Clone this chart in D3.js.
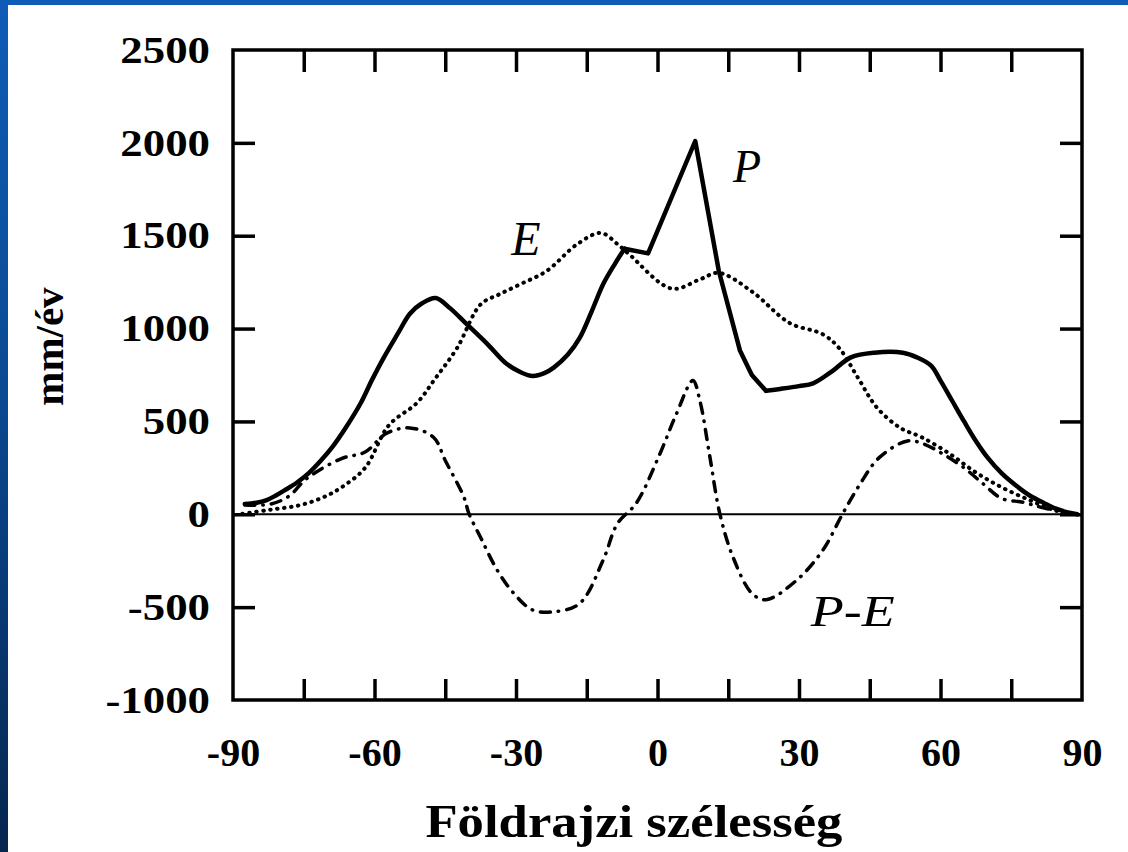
<!DOCTYPE html>
<html>
<head>
<meta charset="utf-8">
<script src="https://cdn.jsdelivr.net/npm/d3@7"></script>
<style>
    body { margin: 0; background: #ffffff; }
    text { font-family: "Liberation Serif", "Times New Roman", serif; }
</style>
</head>
<body>
<script>
// Latitudes and values (mm/év).
var pLat = [-87.5, -85, -83, -81, -79, -76.5, -74, -71.5, -69, -66, -63, -60.5, -58, -55, -52.5, -50, -47, -44, -40.5, -36, -32, -29, -26.5, -24, -22, -19, -16.5, -14, -11.5, -9, -7, -2, 8, 13, 17.5, 20, 23, 26, 30, 33, 37, 41, 46, 52, 55, 58, 60, 62.5, 65, 67.5, 70, 73, 76, 79, 82, 84.5, 87, 89];
var pVal = [55, 62, 75, 100, 130, 170, 220, 285, 360, 470, 595, 725, 845, 975, 1080, 1135, 1165, 1110, 1025, 915, 810, 765, 745, 760, 790, 860, 950, 1090, 1240, 1350, 1430, 1405, 2010, 1310, 880, 750, 665, 675, 690, 705, 770, 845, 870, 870, 845, 800, 720, 610, 500, 395, 305, 220, 155, 100, 60, 30, 10, 0];

var eLat = [-88, -82, -76, -71, -67, -62, -57, -51, -47, -42.5, -37.5, -33.5, -29, -23.5, -17, -12, -8.5, -6, 3, 9, 13, 20, 28, 35, 38.5, 42.5, 46.5, 51.5, 56, 62, 67.5, 73, 79, 84.5, 89];
var eVal = [3, 25, 48, 90, 145, 250, 478, 600, 735, 895, 1130, 1185, 1240, 1310, 1455, 1515, 1455, 1400, 1215, 1265, 1300, 1200, 1030, 970, 895, 735, 575, 465, 415, 325, 225, 145, 75, 20, 0];

var peLat = [-87.5, -82, -78, -74.5, -67, -62, -57.5, -52.5, -47.5, -45, -41, -40, -37.5, -34, -30.5, -26.5, -22, -16.5, -11.5, -8.5, -4.5, 0.5, 4, 7.5, 9, 11, 13.2, 16, 20, 23, 29.5, 35, 39.3, 43, 47, 53, 56.3, 60.5, 65, 69, 73, 77.5, 81, 88];
var peVal = [50, 55, 100, 190, 300, 335, 435, 465, 415, 290, 90, 5, -125, -300, -425, -515, -525, -480, -245, -50, 60, 325, 540, 720, 610, 325, 5, -230, -425, -460, -355, -195, 5, 165, 305, 395, 380, 325, 250, 165, 85, 65, 40, 0];

var xTicksMinor = [-75, -60, -45, -30, -15, 0, 15, 30, 45, 60, 75];
var xTickLabels = [-90, -60, -30, 0, 30, 60, 90];
var yTickValues = [-1000, -500, 0, 500, 1000, 1500, 2000, 2500];

var svgWidth = 1128;
var svgHeight = 852;

var margin = {
    top: 50,
    bottom: 152,
    right: 46,
    left: 233
};

var width = svgWidth - margin.left - margin.right;
var height = svgHeight - margin.top - margin.bottom;

var svg = d3.select("body")
    .append("svg")
    .attr("width", svgWidth)
    .attr("height", svgHeight);

// Blue slide frame behind the white panel.
var defs = svg.append("defs");
var grad = defs.append("linearGradient")
    .attr("id", "frameGrad")
    .attr("x1", 0).attr("y1", 0)
    .attr("x2", 0).attr("y2", 1);
grad.append("stop").attr("offset", "0%").attr("stop-color", "#0f5cb6");
grad.append("stop").attr("offset", "45%").attr("stop-color", "#0b4a93");
grad.append("stop").attr("offset", "100%").attr("stop-color", "#05264f");

svg.append("rect")
    .attr("width", svgWidth)
    .attr("height", svgHeight)
    .attr("fill", "url(#frameGrad)");

svg.append("rect")
    .attr("x", 8)
    .attr("y", 5)
    .attr("width", svgWidth - 8)
    .attr("height", svgHeight - 5)
    .attr("fill", "#ffffff");

var chartGroup = svg.append("g")
    .attr("transform", `translate(${margin.left}, ${margin.top})`);

// Scales.
var xLinearScale = d3.scaleLinear()
    .domain([-90, 90])
    .range([0, width]);

var yLinearScale = d3.scaleLinear()
    .domain([-1000, 2500])
    .range([height, 0]);

// Zero line.
chartGroup.append("line")
    .attr("x1", 0)
    .attr("x2", width)
    .attr("y1", yLinearScale(0))
    .attr("y2", yLinearScale(0))
    .attr("stroke", "#000")
    .attr("stroke-width", 2);

var smoothLine = d3.line()
    .x(d => xLinearScale(d[0]))
    .y(d => yLinearScale(d[1]))
    .curve(d3.curveCatmullRom.alpha(0.5));

var straightLine = d3.line()
    .x(d => xLinearScale(d[0]))
    .y(d => yLinearScale(d[1]));

// P - E (dash-dot).
chartGroup.append("path")
    .datum(d3.zip(peLat, peVal))
    .attr("d", smoothLine)
    .attr("fill", "none")
    .attr("stroke", "#000")
    .attr("stroke-width", 3.5)
    .attr("stroke-linecap", "round")
    .attr("stroke-dasharray", "10 8 0.5 8");

// E (dotted).
chartGroup.append("path")
    .datum(d3.zip(eLat, eVal))
    .attr("d", smoothLine)
    .attr("fill", "none")
    .attr("stroke", "#000")
    .attr("stroke-width", 4)
    .attr("stroke-linecap", "round")
    .attr("stroke-dasharray", "0.5 6.5");

// P (solid): smooth wings, straight segments round the sharp tropical peak.
var pPoints = d3.zip(pLat, pVal);
var iCornerL = pLat.indexOf(-7);
var iCornerR = pLat.indexOf(23);
var pParts = [
    {pts: pPoints.slice(0, iCornerL + 1), gen: smoothLine},
    {pts: pPoints.slice(iCornerL, iCornerR + 1), gen: straightLine},
    {pts: pPoints.slice(iCornerR), gen: smoothLine}
];

chartGroup.selectAll(".p-line")
    .data(pParts)
    .enter()
    .append("path")
    .attr("class", "p-line")
    .attr("d", d => d.gen(d.pts))
    .attr("fill", "none")
    .attr("stroke", "#000")
    .attr("stroke-width", 4.5)
    .attr("stroke-linejoin", "round")
    .attr("stroke-linecap", "round");

// Inner ticks on all four sides.
chartGroup.append("g")
    .attr("transform", `translate(0, ${height})`)
    .call(d3.axisBottom(xLinearScale).tickValues(xTicksMinor).tickSize(-21).tickFormat(""))
    .call(g => g.select(".domain").remove())
    .selectAll("line").attr("stroke-width", 3.5);

chartGroup.append("g")
    .call(d3.axisTop(xLinearScale).tickValues(xTicksMinor).tickSize(-22).tickFormat(""))
    .call(g => g.select(".domain").remove())
    .selectAll("line").attr("stroke-width", 3.5);

chartGroup.append("g")
    .call(d3.axisLeft(yLinearScale).tickValues(yTickValues.slice(1, -1)).tickSize(-22).tickFormat(""))
    .call(g => g.select(".domain").remove())
    .selectAll("line").attr("stroke-width", 3.5);

chartGroup.append("g")
    .attr("transform", `translate(${width}, 0)`)
    .call(d3.axisRight(yLinearScale).tickValues(yTickValues.slice(1, -1)).tickSize(-22).tickFormat(""))
    .call(g => g.select(".domain").remove())
    .selectAll("line").attr("stroke-width", 3.5);

// Frame.
chartGroup.append("rect")
    .attr("width", width)
    .attr("height", height)
    .attr("fill", "none")
    .attr("stroke", "#000")
    .attr("stroke-width", 3.5);

// Tick labels (plain hyphen for the minus sign, as in the picture).
var xAxisLabels = chartGroup.append("g")
    .attr("transform", `translate(0, ${height})`)
    .call(d3.axisBottom(xLinearScale).tickValues(xTickLabels).tickSize(0).tickPadding(38).tickFormat(d => String(d)))
    .call(g => g.select(".domain").remove());

xAxisLabels.selectAll("text")
    .style("font-size", "40px")
    .style("font-weight", "bold")
    .attr("fill", "#000");

var yAxisLabels = chartGroup.append("g")
    .call(d3.axisLeft(yLinearScale).tickValues(yTickValues).tickSize(0).tickFormat(d => String(d)))
    .call(g => g.select(".domain").remove());

yAxisLabels.selectAll("text")
    .attr("x", 0)
    .attr("transform", "translate(-23, 0) scale(1.18, 1)")
    .style("font-size", "38px")
    .style("font-weight", "bold")
    .attr("fill", "#000");

// Axis titles.
chartGroup.append("text")
    .attr("transform", `translate(${-margin.left + 63}, ${yLinearScale(1000) + 18}) rotate(-90)`)
    .attr("text-anchor", "middle")
    .style("font-size", "41px")
    .style("font-weight", "bold")
    .text("mm/év");

chartGroup.append("text")
    .attr("x", xLinearScale(-5))
    .attr("y", height + 137)
    .attr("text-anchor", "middle")
    .attr("textLength", 417)
    .attr("lengthAdjust", "spacingAndGlyphs")
    .style("font-size", "47px")
    .style("font-weight", "bold")
    .text("Földrajzi szélesség");

// Curve annotations.
chartGroup.append("text")
    .attr("x", xLinearScale(-31))
    .attr("y", yLinearScale(1395))
    .style("font-size", "48px")
    .style("font-style", "italic")
    .text("E");

chartGroup.append("text")
    .attr("x", xLinearScale(16))
    .attr("y", yLinearScale(1790))
    .style("font-size", "46px")
    .style("font-style", "italic")
    .text("P");

chartGroup.append("text")
    .attr("x", xLinearScale(32.5))
    .attr("y", yLinearScale(-600))
    .attr("textLength", 84)
    .attr("lengthAdjust", "spacingAndGlyphs")
    .style("font-size", "44px")
    .style("font-style", "italic")
    .text("P-E");
</script>
</body>
</html>
